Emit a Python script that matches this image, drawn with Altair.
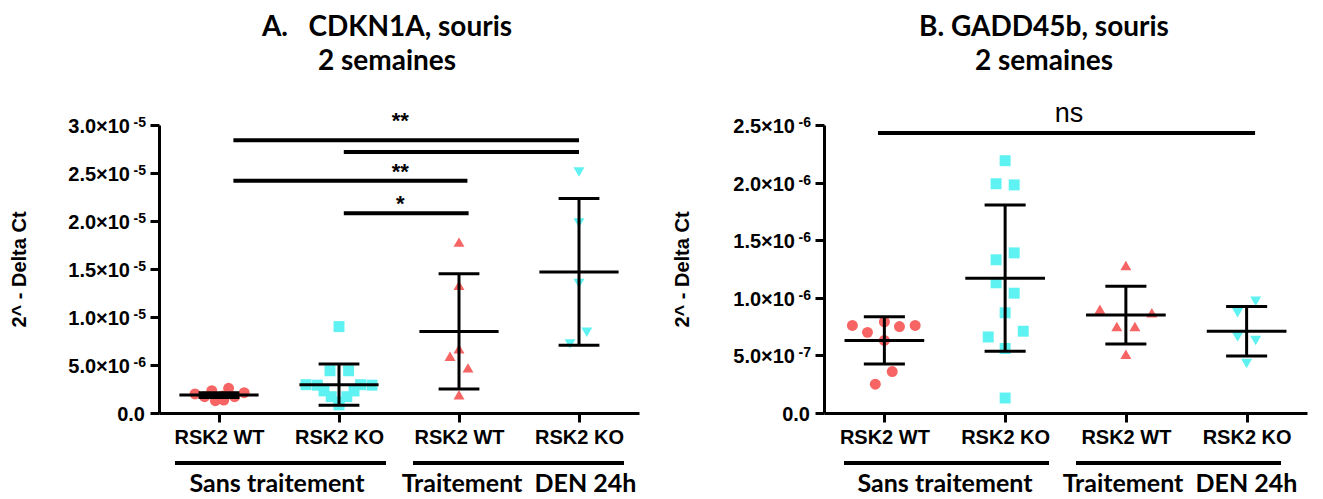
import json
import altair as alt
import pandas as pd

# ---------------- data ----------------
categories = ["RSK2 WT", "RSK2 KO", "RSK2 WT", "RSK2 KO"]
treatments = ["Sans traitement", "Traitement\u00a0\u00a0DEN 24h"]

# Panel A : CDKN1A (values, and horizontal spread in category units)
a_vals = [
    [1.98e-6, 1.70e-6, 2.32e-6, 1.28e-6, 1.77e-6, 1.35e-6, 2.57e-6, 1.70e-6, 2.11e-6],
    [9.0e-6, 4.4e-6, 4.4e-6, 2.95e-6, 2.9e-6, 2.95e-6, 2.9e-6, 2.3e-6, 2.3e-6,
     1.7e-6, 1.7e-6, 1.15e-6, 0.85e-6],
    [17.8e-6, 13.3e-6, 6.7e-6, 5.9e-6, 4.7e-6, 1.9e-6],
    [25.1e-6, 19.8e-6, 13.5e-6, 8.4e-6, 7.2e-6],
]
a_spread = [
    [-0.20, -0.12, -0.06, -0.03, 0.03, 0.04, 0.08, 0.13, 0.21],
    [0.0, -0.075, 0.08, -0.275, -0.18, 0.18, 0.275, -0.125, 0.125, -0.065, 0.065, 0.0, 0.0],
    [0.0, 0.0, 0.0, -0.075, 0.075, 0.0],
    [0.0, 0.0, 0.0, 0.065, -0.075],
]
a_mean = [1.87e-6, 2.95e-6, 8.5e-6, 14.7e-6]
a_sd = [0.25e-6, 2.15e-6, 6.0e-6, 7.65e-6]
a_yticks = [0, 5e-6, 1e-5, 1.5e-5, 2e-5, 2.5e-5, 3e-5]
a_ybase = ["0.0", "5.0×10", "1.0×10", "1.5×10", "2.0×10", "2.5×10", "3.0×10"]
a_yexp = ["", "-6", "-5", "-5", "-5", "-5", "-5"]
a_sig_x1 = [1.12, 2.04, 1.12, 2.04]
a_sig_x2 = [4.0, 4.0, 3.07, 3.08]
a_sig_y = [28.4e-6, 27.2e-6, 24.2e-6, 20.8e-6]
a_star_x = [2.51, 2.51, 2.51]
a_star_y = [29.7e-6, 24.4e-6, 21.0e-6]
a_star_txt = ["**", "**", "*"]

# Panel B : GADD45b
b_vals = [
    [0.76e-6, 0.70e-6, 0.79e-6, 0.63e-6, 0.75e-6, 0.76e-6, 0.36e-6, 0.25e-6],
    [2.19e-6, 1.99e-6, 1.98e-6, 1.39e-6, 1.33e-6, 1.13e-6, 1.04e-6, 0.87e-6,
     0.66e-6, 0.71e-6, 0.56e-6, 0.13e-6],
    [1.28e-6, 0.90e-6, 0.87e-6, 0.75e-6, 0.75e-6, 0.51e-6],
    [0.97e-6, 0.87e-6, 0.66e-6, 0.63e-6, 0.43e-6],
]
b_spread = [
    [-0.265, -0.14, 0.0, 0.0, 0.125, 0.255, 0.065, -0.075],
    [0.0, -0.075, 0.075, 0.075, -0.075, -0.075, 0.075, 0.0, -0.14, 0.15, 0.0, 0.0],
    [0.0, -0.215, 0.215, -0.075, 0.075, 0.0],
    [0.075, -0.075, -0.075, 0.075, 0.0],
]
b_mean = [0.63e-6, 1.17e-6, 0.85e-6, 0.71e-6]
b_sd = [0.205e-6, 0.635e-6, 0.25e-6, 0.215e-6]
b_yticks = [0, 5e-7, 1e-6, 1.5e-6, 2e-6, 2.5e-6]
b_ybase = ["0.0", "5.0×10", "1.0×10", "1.5×10", "2.0×10", "2.5×10"]
b_yexp = ["", "-7", "-6", "-6", "-6", "-6"]
b_sig_x1 = [0.947]
b_sig_x2 = [4.07]
b_sig_y = [2.43e-6]
b_star_x = [2.53]
b_star_y = [2.526e-6]
b_star_txt = ["ns"]

RED = "#F66464"
CYAN = "#5EF2F2"
SANS = "Liberation Sans"
TITLEFONT = "Lato"
GROUPFONT = "Lato"


def panel(vals, spread, mean, sd, yticks, ybase, yexp, sig_x1, sig_x2, sig_y,
          star_x, star_y, star_txt, star_size, star_weight,
          title_lines, title_x, group_lines, group_text_x, width, height, title_pad):
    rows = []
    for g, (vs, ss) in enumerate(zip(vals, spread), start=1):
        for v, s in zip(vs, ss):
            rows.append({"g": str(g), "x": g + s, "v": v})
    pts = pd.DataFrame(rows)
    summ = pd.DataFrame({
        "g": [1, 2, 3, 4],
        "mean": mean,
        "lo": [m - s for m, s in zip(mean, sd)],
        "hi": [m + s for m, s in zip(mean, sd)],
    })
    ylab = pd.DataFrame({"v": yticks, "base": ybase, "exp": yexp})
    xscale = alt.Scale(domain=[0.5, 4.5], nice=False, zero=False)
    yscale = alt.Scale(domain=[yticks[0], yticks[-1]], nice=False, zero=True)
    xaxis = alt.Axis(values=[1, 2, 3, 4], title=None,
                     labelExpr=f"{json.dumps(categories)}[datum.value-1]",
                     labelPadding=5)
    yaxis = alt.Axis(values=yticks, title="2^ - Delta Ct", labels=False,
                     titlePadding=title_pad)

    points = alt.Chart(pts).mark_point(filled=True, size=120, opacity=1).encode(
        x=alt.X("x:Q", scale=xscale, axis=xaxis),
        y=alt.Y("v:Q", scale=yscale, axis=yaxis),
        shape=alt.Shape("g:N", scale=alt.Scale(domain=["1", "2", "3", "4"],
                        range=["circle", "square", "triangle-up", "triangle-down"]), legend=None),
        color=alt.Color("g:N", scale=alt.Scale(domain=["1", "2", "3", "4"],
                        range=[RED, CYAN, RED, CYAN]), legend=None),
    )
    # y tick labels with superscript exponents
    ylb = alt.Chart(ylab).transform_calculate(
        px="datum.exp == '' ? -14 : -29").mark_text(
        font=SANS, fontSize=20, fontWeight="bold", color="black",
        align="right", baseline="middle", dy=2).encode(
        x=alt.X("px:Q", scale=None), y=alt.Y("v:Q", scale=yscale), text="base:N")
    yle = alt.Chart(ylab).mark_text(
        font=SANS, fontSize=14, fontWeight="bold", color="black",
        align="right", baseline="alphabetic", dy=2).encode(
        x=alt.value(-13), y=alt.Y("v:Q", scale=yscale), text="exp:N")

    sb = alt.Chart(summ)
    mean_rule = sb.mark_rule(color="black", strokeWidth=3).transform_calculate(
        xa="datum.g - 0.33", xb="datum.g + 0.33").encode(
        x=alt.X("xa:Q", scale=xscale), x2="xb:Q", y=alt.Y("mean:Q", scale=yscale))
    sd_rule = sb.mark_rule(color="black", strokeWidth=3).encode(
        x=alt.X("g:Q", scale=xscale), y=alt.Y("lo:Q", scale=yscale), y2="hi:Q")
    cap_lo = sb.mark_rule(color="black", strokeWidth=3).transform_calculate(
        xa="datum.g - 0.17", xb="datum.g + 0.17").encode(
        x=alt.X("xa:Q", scale=xscale), x2="xb:Q", y=alt.Y("lo:Q", scale=yscale))
    cap_hi = sb.mark_rule(color="black", strokeWidth=3).transform_calculate(
        xa="datum.g - 0.17", xb="datum.g + 0.17").encode(
        x=alt.X("xa:Q", scale=xscale), x2="xb:Q", y=alt.Y("hi:Q", scale=yscale))

    sig = alt.Chart(pd.DataFrame({"x1": sig_x1, "x2": sig_x2, "y": sig_y})).mark_rule(
        color="black", strokeWidth=4).encode(
        x=alt.X("x1:Q", scale=xscale), x2="x2:Q", y=alt.Y("y:Q", scale=yscale))
    stars = alt.Chart(pd.DataFrame({"x": star_x, "y": star_y, "t": star_txt})).mark_text(
        font=SANS, fontSize=star_size, fontWeight=star_weight, color="black",
        baseline="alphabetic", align="center").encode(
        x=alt.X("x:Q", scale=xscale), y=alt.Y("y:Q", scale=yscale), text="t:N")

    extra = []
    for i, line in enumerate(title_lines):
        extra.append(alt.Chart(pd.DataFrame({"t": [line]})).mark_text(
            font=TITLEFONT, fontSize=28, fontWeight="bold", color="black",
            baseline="alphabetic", align="center").encode(
            text="t:N", x=alt.value(title_x), y=alt.value(-89 + 34 * i)))
    for (x1, x2), tx, txt in zip(group_lines, group_text_x, treatments):
        extra.append(alt.Chart(pd.DataFrame({"t": [txt]})).mark_rule(
            color="black", strokeWidth=4).encode(
            x=alt.value(x1), x2=alt.value(x2), y=alt.value(338)))
        extra.append(alt.Chart(pd.DataFrame({"t": [txt]})).mark_text(
            font=GROUPFONT, fontSize=25, fontWeight="bold", color="black",
            baseline="alphabetic", align="center").encode(
            text="t:N", x=alt.value(tx), y=alt.value(367)))

    return alt.layer(points, ylb, yle, sd_rule, mean_rule, cap_lo, cap_hi, sig, stars,
                     *extra).properties(width=width, height=height)


left = panel(a_vals, a_spread, a_mean, a_sd, a_yticks, a_ybase, a_yexp,
             a_sig_x1, a_sig_x2, a_sig_y, a_star_x, a_star_y, a_star_txt, 22, "bold",
             ["A.\u00a0\u00a0\u00a0CDKN1A, souris", "2 semaines"], 228,
             [(16, 227), (254, 465)], [118, 360], 480, 288, 119)
right = panel(b_vals, b_spread, b_mean, b_sd, b_yticks, b_ybase, b_yexp,
              b_sig_x1, b_sig_x2, b_sig_y, b_star_x, b_star_y, b_star_txt, 27, "normal",
              ["B. GADD45b, souris", "2 semaines"], 220,
              [(20, 225), (252, 457)], [121, 356], 483, 288, 121)

chart = alt.hconcat(left, right, spacing=33).properties(
    padding={"left": 1, "top": 6, "right": 5, "bottom": 5}
).configure_view(stroke=None).configure_axis(
    grid=False, domainColor="black", domainWidth=3, tickColor="black",
    tickWidth=3, tickSize=9, labelFont=SANS, labelFontSize=20, labelFontWeight="bold",
    labelColor="black", titleFont=SANS, titleFontSize=20, titleFontWeight="bold",
    titleColor="black",
)

chart.save("out.html", embed_options={"renderer": "svg", "actions": False})
